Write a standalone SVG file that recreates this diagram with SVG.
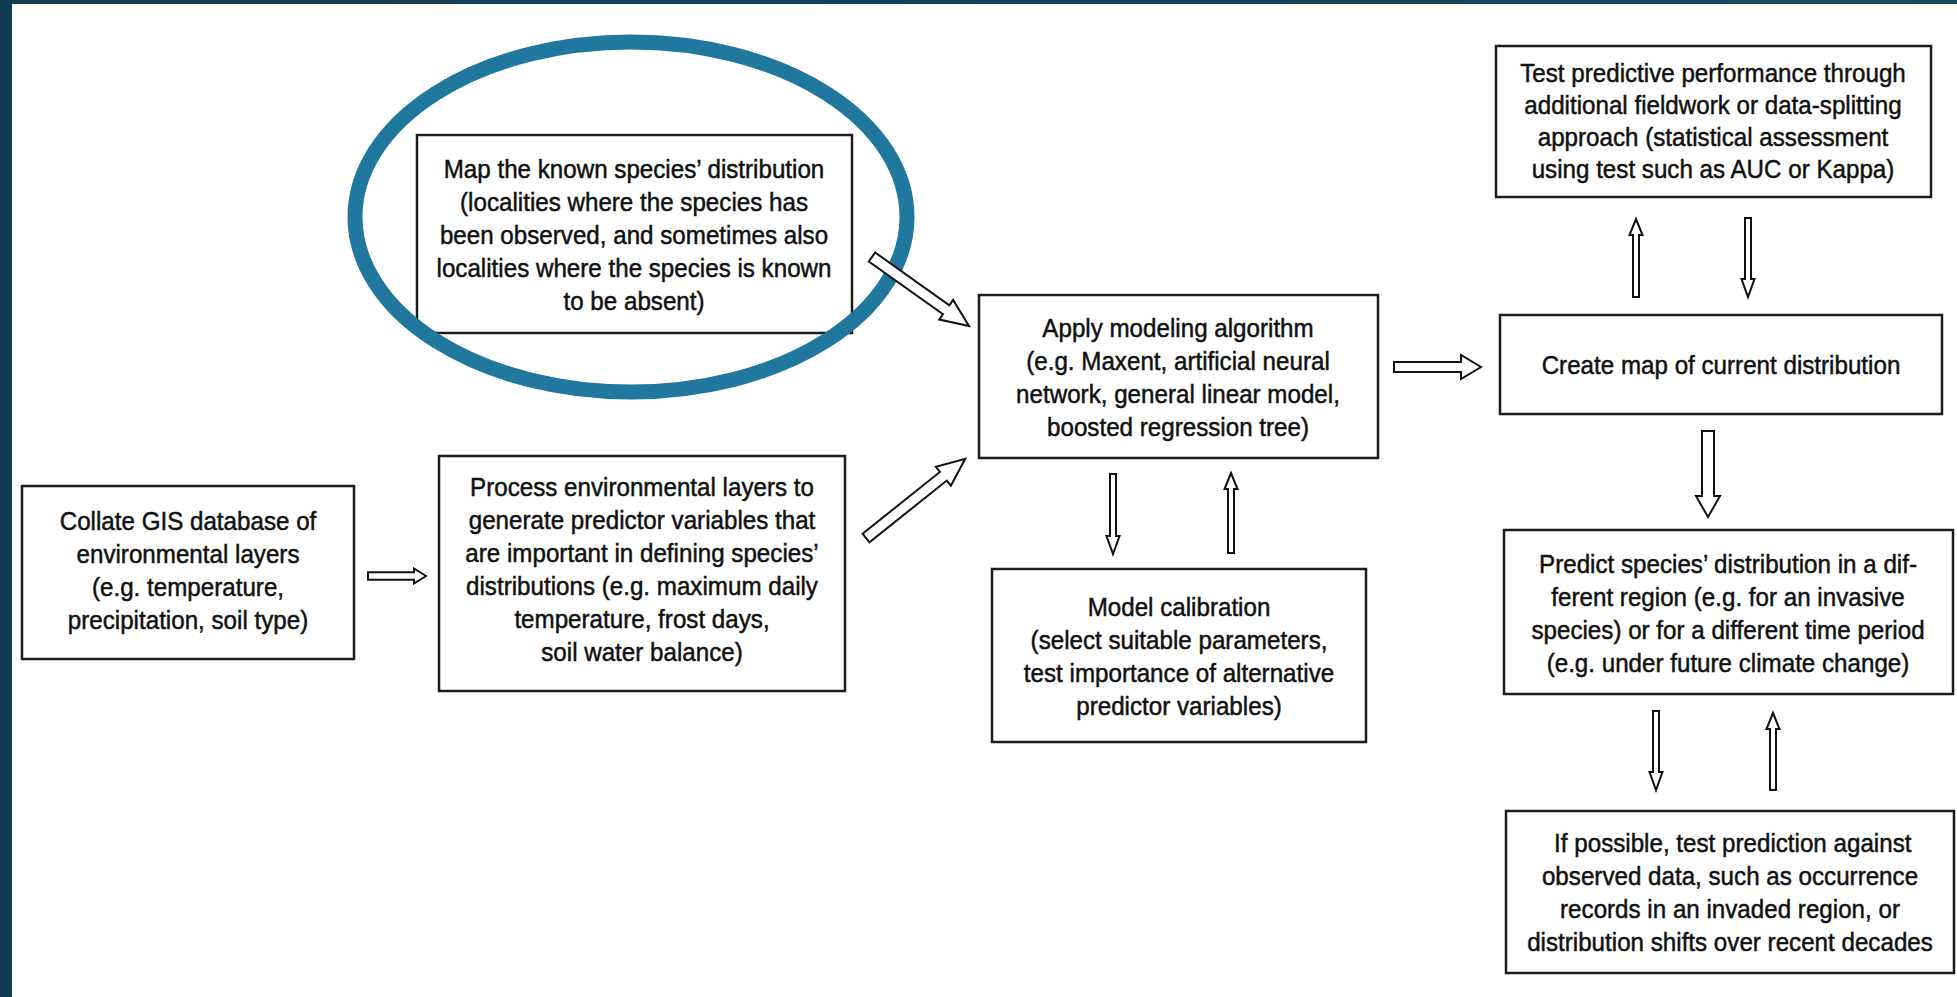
<svg xmlns="http://www.w3.org/2000/svg" width="1957" height="997" viewBox="0 0 1957 997">
<defs>
<linearGradient id="frame" x1="0" y1="0" x2="1" y2="0">
<stop offset="0" stop-color="#0f3a52"/>
<stop offset="1" stop-color="#1b4a64"/>
</linearGradient>
<style>
.box{fill:#fff;stroke:#1c1c1c;stroke-width:2.5}
.t{font-family:"Liberation Sans",Arial,sans-serif;font-size:26px;fill:#111;stroke:#111;stroke-width:0.5;text-anchor:middle}
.arr{fill:#fff;stroke:#111;stroke-width:2;stroke-linejoin:miter}
</style>
</defs>
<rect x="0" y="0" width="1957" height="997" fill="url(#frame)"/>
<rect x="12" y="4" width="1945" height="993" fill="#fff"/>

<g id="node-map-known">
<rect class="box" x="417" y="135" width="435" height="198"/>
<text class="t" transform="translate(634,0) scale(0.93,1)"><tspan x="0" y="178">Map the known species’ distribution</tspan><tspan x="0" y="211">(localities where the species has</tspan><tspan x="0" y="244">been observed, and sometimes also</tspan><tspan x="0" y="277">localities where the species is known</tspan><tspan x="0" y="310">to be absent)</tspan></text>
</g>

<g id="highlight">
<ellipse cx="631" cy="217" rx="276" ry="175" fill="none" stroke="#21789e" stroke-width="15"/>
</g>

<g id="node-collate">
<rect class="box" x="22" y="486" width="332" height="173"/>
<text class="t" transform="translate(188,0) scale(0.93,1)"><tspan x="0" y="530">Collate GIS database of</tspan><tspan x="0" y="563">environmental layers</tspan><tspan x="0" y="596">(e.g. temperature,</tspan><tspan x="0" y="629">precipitation, soil type)</tspan></text>
</g>

<g id="node-process">
<rect class="box" x="439" y="456" width="406" height="235"/>
<text class="t" transform="translate(642,0) scale(0.93,1)"><tspan x="0" y="496">Process environmental layers to</tspan><tspan x="0" y="529">generate predictor variables that</tspan><tspan x="0" y="562">are important in defining species’</tspan><tspan x="0" y="595">distributions (e.g. maximum daily</tspan><tspan x="0" y="628">temperature, frost days,</tspan><tspan x="0" y="661">soil water balance)</tspan></text>
</g>

<g id="node-apply">
<rect class="box" x="979" y="295" width="399" height="163"/>
<text class="t" transform="translate(1178,0) scale(0.93,1)"><tspan x="0" y="337">Apply modeling algorithm</tspan><tspan x="0" y="370">(e.g. Maxent, artificial neural</tspan><tspan x="0" y="403">network, general linear model,</tspan><tspan x="0" y="436">boosted regression tree)</tspan></text>
</g>

<g id="node-calibration">
<rect class="box" x="992" y="569" width="374" height="173"/>
<text class="t" transform="translate(1179,0) scale(0.93,1)"><tspan x="0" y="616">Model calibration</tspan><tspan x="0" y="649">(select suitable parameters,</tspan><tspan x="0" y="682">test importance of alternative</tspan><tspan x="0" y="715">predictor variables)</tspan></text>
</g>

<g id="node-test-performance">
<rect class="box" x="1496" y="46" width="435" height="151"/>
<text class="t" transform="translate(1713,0) scale(0.93,1)"><tspan x="0" y="82">Test predictive performance through</tspan><tspan x="0" y="114">additional fieldwork or data-splitting</tspan><tspan x="0" y="146">approach (statistical assessment</tspan><tspan x="0" y="178">using test such as AUC or Kappa)</tspan></text>
</g>

<g id="node-create-map">
<rect class="box" x="1500" y="315" width="442" height="99"/>
<text class="t" transform="translate(1721,0) scale(0.93,1)"><tspan x="0" y="374">Create map of current distribution</tspan></text>
</g>

<g id="node-predict">
<rect class="box" x="1504" y="530" width="449" height="164"/>
<text class="t" transform="translate(1728,0) scale(0.93,1)"><tspan x="0" y="573">Predict species’ distribution in a dif-</tspan><tspan x="0" y="606">ferent region (e.g. for an invasive</tspan><tspan x="0" y="639">species) or for a different time period</tspan><tspan x="0" y="672">(e.g. under future climate change)</tspan></text>
</g>

<g id="node-test-prediction">
<rect class="box" x="1506" y="811" width="448" height="162"/>
<text class="t" transform="translate(1730,0) scale(0.93,1)"><tspan x="3" y="852">If possible, test prediction against</tspan><tspan x="0" y="885">observed data, such as occurrence</tspan><tspan x="0" y="918">records in an invaded region, or</tspan><tspan x="0" y="951">distribution shifts over recent decades</tspan></text>
</g>

<g id="connectors">
<polygon class="arr" points="368,572.2 414,572.2 414,568.5 426,576 414,583.5 414,579.8 368,579.8"/>
<polygon class="arr" transform="translate(872,257) rotate(35.4)" points="0,-5.5 91,-5.5 91,-12 119,0 91,12 91,5.5 0,5.5"/>
<polygon class="arr" transform="translate(866,538) rotate(-38.6)" points="0,-5.5 99,-5.5 99,-12 127,0 99,12 99,5.5 0,5.5"/>
<polygon class="arr" points="1394,362 1461,362 1461,355 1481,367 1461,379 1461,372 1394,372"/>
<polygon class="arr" points="1110,474 1116,474 1116,536 1119.5,536 1113,554 1106.5,536 1110,536"/>
<polygon class="arr" points="1228,553 1234,553 1234,489 1237.5,489 1231,473 1224.5,489 1228,489"/>
<polygon class="arr" points="1633,297 1639,297 1639,235 1642.5,235 1636,219 1629.5,235 1633,235"/>
<polygon class="arr" points="1745,218 1751,218 1751,279 1754.5,279 1748,297 1741.5,279 1745,279"/>
<polygon class="arr" points="1702,431 1714,431 1714,496 1720,496 1708,517 1696,496 1702,496"/>
<polygon class="arr" points="1653,711 1659,711 1659,772 1662.5,772 1656,790 1649.5,772 1653,772"/>
<polygon class="arr" points="1770,790 1776,790 1776,729 1779.5,729 1773,713 1766.5,729 1770,729"/>
</g>
</svg>
